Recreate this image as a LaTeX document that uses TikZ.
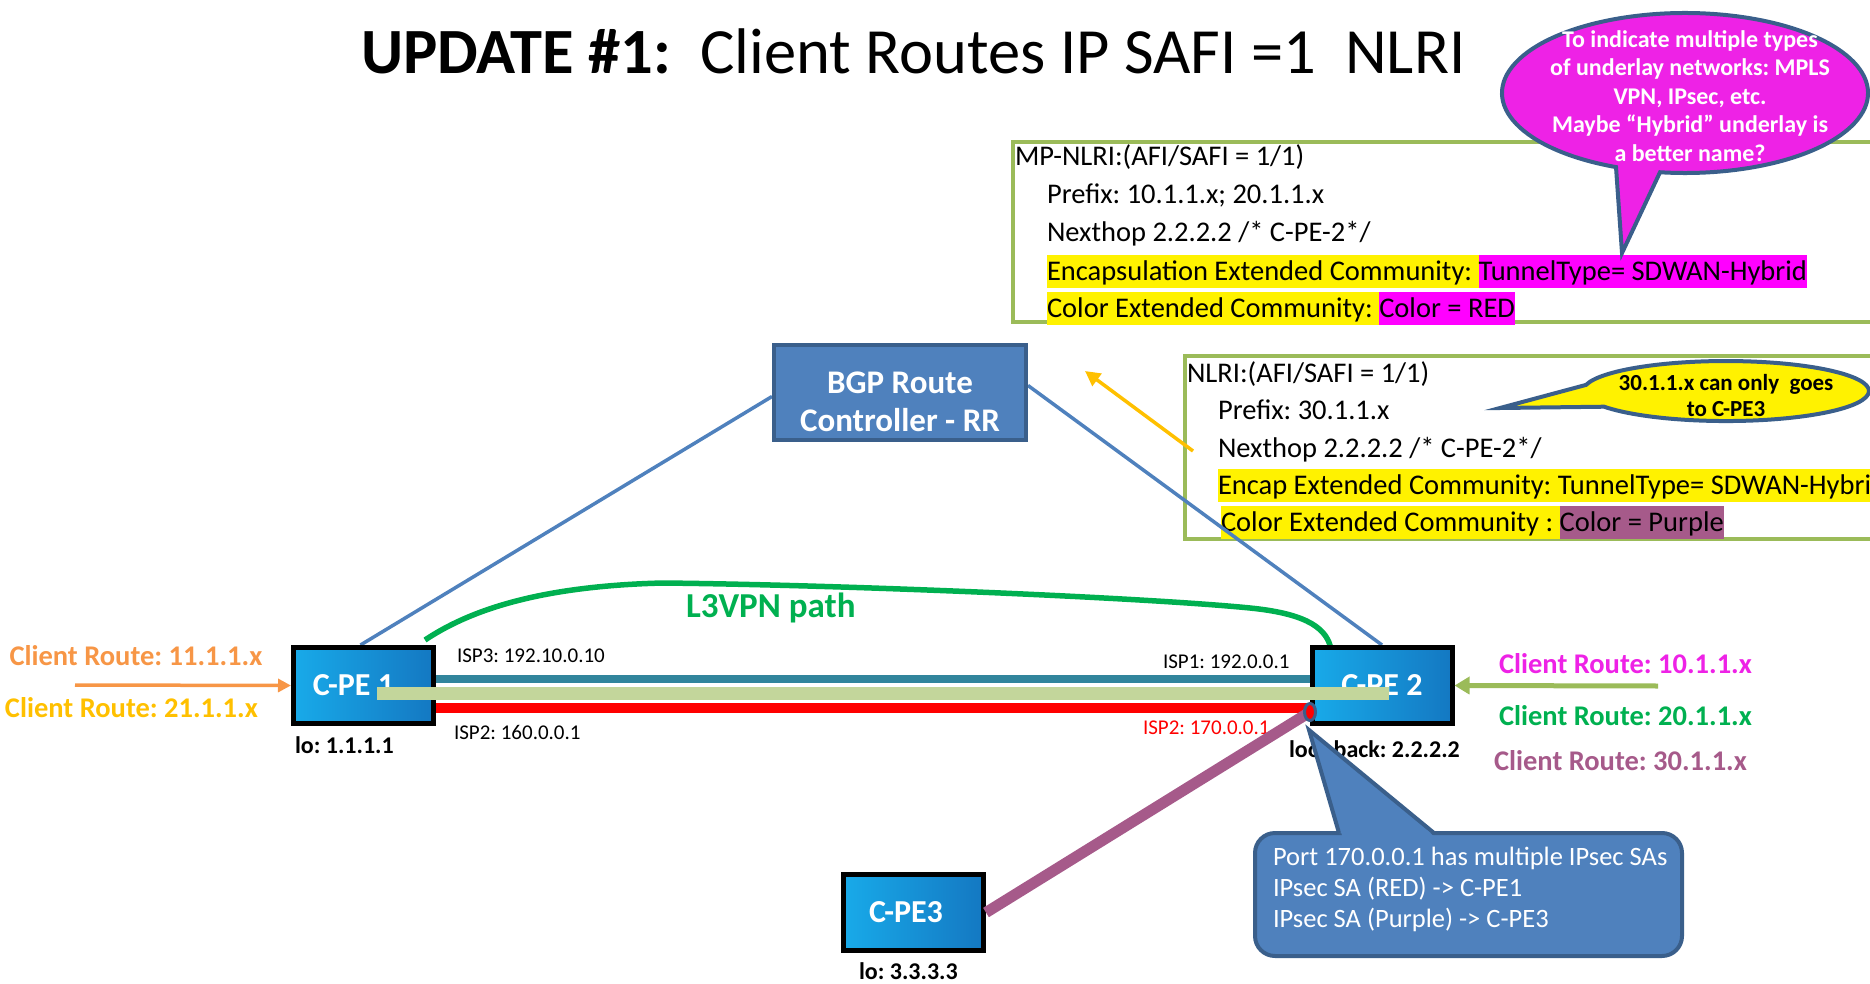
\documentclass[tikz,border=0pt]{standalone}
\usepackage{fontspec}
\setmainfont{Carlito}
\usetikzlibrary{arrows.meta,shapes.geometric}
\frenchspacing
\newcommand\fsz[2]{\fontsize{#1}{#2}\selectfont}
\definecolor{cOlive}{HTML}{9BBB59}
\definecolor{cLgreen}{HTML}{C3D69B}
\definecolor{cTeal}{HTML}{31859C}
\definecolor{cBlue}{HTML}{4F81BD}
\definecolor{cDark}{HTML}{3A5F8B}
\definecolor{cGreen}{HTML}{00B050}
\definecolor{cOrange}{HTML}{F79646}
\definecolor{cGold}{HTML}{FFC000}
\definecolor{cMag}{HTML}{EE22E6}
\definecolor{cHmag}{HTML}{FF00FF}
\definecolor{cPurple}{HTML}{A65A8A}
\definecolor{peL}{HTML}{18AAE9}
\definecolor{peR}{HTML}{1478C2}
\begin{document}
\begin{tikzpicture}[x=1pt,y=-1pt,
  every node/.style={inner sep=0pt,outer sep=0pt},
  pe/.style={draw=black,line width=5pt,left color=peL,right color=peR,
    minimum width=140pt,minimum height=76pt,text=white,
    font=\bfseries\fsz{32}{38},outer sep=2.5pt},
  frame/.style={draw=cOlive,line width=4pt,anchor=north west},
  tx/.style={anchor=base west,font=\fsz{28.5}{37.5}},
  hl/.style={anchor=base west,font=\fsz{28.5}{37.5},text height=25pt,text depth=7.7pt},
  lbl/.style={anchor=base west,font=\bfseries\fsz{28.5}{34}},
  isp/.style={anchor=base west,font=\fsz{21}{25}},
  lolbl/.style={anchor=base west,font=\bfseries\fsz{24}{28}},
  thinblue/.style={draw=cBlue,line width=3.5pt},
  callborder/.style={draw=cDark,line width=4pt,line join=miter}
]
\useasboundingbox (0,0) rectangle (1870,984);
\clip (0,0) rectangle (1870,984);

% title
\node[anchor=base west,font=\fsz{64.5}{70}] (title) at (361,74)
  {\textbf{UPDATE \#1:}~ Client Routes IP SAFI =1~ NLRI};

% frame 1
\node[frame,minimum width=890pt,minimum height=180pt] (box1) at (1013,142) {};
\node[tx] (m1) at (1015,166) {MP-NLRI:(AFI/SAFI = 1/1)};
\node[tx] (m2) at (1047,203.5) {Prefix: 10.1.1.x; 20.1.1.x};
\node[tx] (m3) at (1047,242) {Nexthop 2.2.2.2 /* C-PE-2*/};
\node[hl,fill=yellow] (m4a) at (1047,280) {Encapsulation Extended Community: \mbox{}};
\node[hl,fill=cHmag] (m4b) at (m4a.base east) {TunnelType= SDWAN-Hybrid};
\node[hl,fill=yellow] (m5a) at (1047,317) {Color Extended Community: \mbox{}};
\node[hl,fill=cHmag] (m5b) at (m5a.base east) {Color = RED};

% frame 2
\node[frame,minimum width=720pt,minimum height=183pt] (box2) at (1185,356) {};
\node[tx] (n1) at (1187,382) {NLRI:(AFI/SAFI = 1/1)};
\node[tx] (n2) at (1218,419) {Prefix: 30.1.1.x};
\node[tx] (n3) at (1218,457) {Nexthop 2.2.2.2 /* C-PE-2*/};
\node[hl,fill=yellow] (n4) at (1218,494) {Encap Extended Community: TunnelType= SDWAN-Hybrid};
\node[hl,fill=yellow] (n5a) at (1221,531) {Color Extended Community : \mbox{}};
\node[hl,fill=cPurple] (n5b) at (n5a.base east) {Color = Purple};

% coordinates of free connector ends
\coordinate (oa) at (75,685);
\coordinate (ga) at (1658,686);
\coordinate (ya1) at (1193,451);
\coordinate (ya2) at (1085,371);

% positions of main nodes
\path (900,392.5) coordinate (bgpc) (363.5,685.5) coordinate (c1c)
      (1382,685.5) coordinate (c2c) (913.5,912.5) coordinate (c3c);

% invisible placeholders to get anchors for lines drawn behind
\node[minimum width=256pt,minimum height=99pt] (bgp) at (bgpc) {};
\node[minimum width=145pt,minimum height=81pt] (cpe1) at (c1c) {};
\node[minimum width=145pt,minimum height=81pt] (cpe2) at (c2c) {};
\node[minimum width=145pt,minimum height=81pt] (cpe3) at (c3c) {};

% lines behind the boxes
\draw[thinblue] ([xshift=-3pt]cpe1.north) -- ([yshift=-4pt]bgp.west);
\draw[thinblue] ([yshift=7pt]bgp.east) -- (cpe2.north);
\draw[cTeal,line width=8pt] ([yshift=6.5pt]cpe1.east) -- ([yshift=6.5pt]cpe2.west);
\draw[red,line width=10pt] ([yshift=-22.5pt]cpe1.east) -- ([yshift=-22.5pt]cpe2.west);
\draw[cGreen,line width=5.5pt] ([xshift=-11pt,yshift=5pt]cpe1.north east)
   .. controls (470,610) and (540,586) .. (663,583)
   .. controls (850,585) and (1150,598) .. (1250,608)
   .. controls (1300,613) and (1325,625) .. ([xshift=21pt,yshift=-2pt]cpe2.north west);

% boxes
\node[draw=cDark,line width=4pt,fill=cBlue,minimum width=252pt,minimum height=95pt] (bgpbox) at (bgpc) {};
\node[align=center,text=white,font=\bfseries\fsz{33}{38}] (bgptxt) at (900,402) {BGP Route\\Controller - RR};
\node[pe] (pe1) at (c1c) {C-PE 1\hspace*{20pt}};
\node[pe] (pe2) at (c2c) {C-PE 2};
\node[pe] (pe3) at (c3c) {C-PE3\hspace*{15pt}};

% light green overlay path
\draw[cLgreen,line width=13pt] ([shift={(13.5pt,-7.5pt)}]pe1.center) -- ([shift={(7pt,-7.5pt)}]pe2.center);

% arrows
\draw[cOrange,line width=3.5pt,-{Triangle[length=13pt,width=13pt]}] (oa) -- (pe1.west);
\draw[cOlive,line width=5pt,-{Triangle[length=15pt,width=17pt]}] (ga) -- (pe2.east);
\draw[cGold,line width=3.5pt,-{Triangle[length=15pt,width=15pt]}] (ya1) -- (ya2);

% labels
\node[lbl,text=cOrange] (cr11) at (9.5,665) {Client Route: 11.1.1.x};
\node[lbl,text=cGold] (cr21) at (5,717) {Client Route: 21.1.1.x};
\node[lbl,text=cMag] (cr10) at (1499,673) {Client Route: 10.1.1.x};
\node[lbl,text=cGreen] (cr20) at (1499,725) {Client Route: 20.1.1.x};
\node[lbl,text=cPurple] (cr30) at (1494,770) {Client Route: 30.1.1.x};
\node[isp] (isp3) at (457,662) {ISP3: 192.10.0.10};
\node[isp] (isp2a) at (454,739) {ISP2: 160.0.0.1};
\node[isp] (isp1) at (1163,668) {ISP1: 192.0.0.1};
\node[isp,text=red] (isp2b) at (1143,734) {ISP2: 170.0.0.1};
\node[lolbl] (lo1) at (295,753) {lo: 1.1.1.1};
\node[lolbl] (lo2) at (1289,757) {loopback: 2.2.2.2};
\node[lolbl] (lo3) at (859,979) {lo: 3.3.3.3};
\node[anchor=base west,font=\bfseries\fsz{35}{40},text=cGreen] (l3) at (686,617) {L3VPN path};

% purple IPsec path and port
\node[ellipse,minimum width=11pt,minimum height=17pt] (port) at (1310,712) {};
\draw[cPurple,line width=11pt] (pe3.east) -- (port.center);
\node[ellipse,draw=cDark,line width=3pt,fill=red,minimum width=11pt,minimum height=17pt] (portmark) at (port) {};

% magenta callout
\filldraw[callborder,fill=cMag] (1616.0,167.1)
  arc[start angle=112.15,end angle=457.85,x radius=183,y radius=80]
  -- (1622,253) -- cycle;
\node[align=center,text=white,font=\bfseries\fsz{24}{28.5}] (mtxt) at (1690,96)
  {To indicate multiple types\\of underlay networks: MPLS\\VPN, IPsec, etc.\\Maybe “Hybrid” underlay is\\a better name?};

% yellow callout
\filldraw[callborder,fill=yellow] (1586.0,384.9)
  arc[start angle=191.8,end angle=508.5,x radius=143,y radius=30]
  -- (1500,408) -- cycle;
\node[align=center,font=\bfseries\fsz{23}{26}] (ytxt) at (1726,396)
  {30.1.1.x can only~ goes\\to C-PE3};

% blue callout
\node[draw=cDark,line width=4pt,fill=cBlue,rounded corners=20pt,
      minimum width=427pt,minimum height=123pt] (sa) at (1468.5,894.5) {};
\filldraw[callborder,fill=cBlue] (1339,833) -- (1309,730) -- (1434,833);
\fill[cBlue] (1340.5,830) -- (1426.9,830) -- (1434.1,836.5) -- (1342.3,836.5) -- cycle;
\node[anchor=west,align=left,text=white,font=\fsz{26.5}{31}] (satxt) at (1273,889)
  {Port 170.0.0.1 has multiple IPsec SAs\\IPsec SA (RED) -> C-PE1\\IPsec SA (Purple) -> C-PE3};

\end{tikzpicture}
\end{document}
